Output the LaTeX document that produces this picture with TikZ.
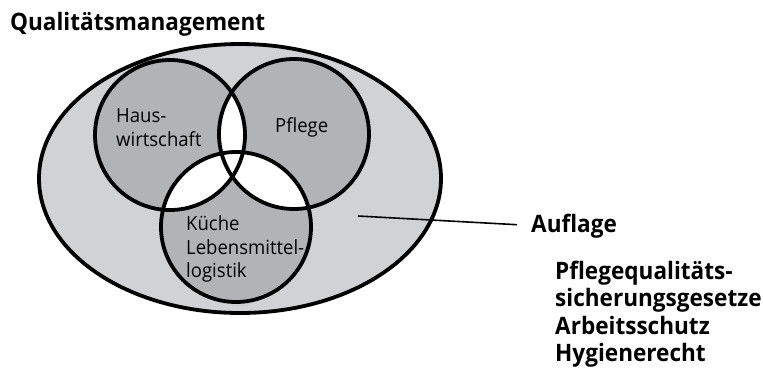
\documentclass[tikz,border=0pt]{standalone}
\usepackage{fontspec}
\setmainfont{Open Sans}
\newfontfamily\condfont[FakeStretch=0.95]{Open Sans}
\newfontfamily\boldcond[FakeStretch=0.94]{Open Sans Bold}
\definecolor{outerfill}{HTML}{D1D2D4}
\definecolor{circfill}{HTML}{B2B3B5}
\begin{document}
\begin{tikzpicture}[x=1pt,y=-1pt,
  outline/.style={line width=3.8pt,draw=black},
  boldlabel/.style={font=\boldcond\fontsize{24}{28}\selectfont,inner sep=0pt,anchor=base west},
  innerlabel/.style={font=\condfont\fontsize{19.5}{24}\selectfont,inner sep=0pt,anchor=base west},
  leader/.style={line width=1.6pt,draw=black}]
\useasboundingbox (0,0) rectangle (763,368);
\coordinate (E) at (240,178.5);
\coordinate (H) at (170,135);
\coordinate (P) at (294,134);
\coordinate (K) at (236,227);
% fills
\fill[outerfill] (E) ellipse [x radius=201pt, y radius=134.5pt];
\fill[circfill] (H) circle [radius=75pt];
\fill[circfill] (P) circle [radius=75pt];
\fill[circfill] (K) circle [radius=75pt];
\begin{scope}
  \clip (H) circle [radius=75pt];
  \fill[white] (P) circle [radius=75pt];
  \fill[white] (K) circle [radius=75pt];
\end{scope}
\begin{scope}
  \clip (P) circle [radius=75pt];
  \fill[white] (K) circle [radius=75pt];
\end{scope}
% outlines
\draw[outline] (E) ellipse [x radius=201pt, y radius=134.5pt];
\draw[outline] (H) circle [radius=75pt];
\draw[outline] (P) circle [radius=75pt];
\draw[outline] (K) circle [radius=75pt];
% texts
\node[boldlabel] (title) at (10,30) {Qualitätsmanagement};
\node[innerlabel] (haus1) at (116,122) {Haus-};
\node[innerlabel] (haus2) at (116,146) {wirtschaft};
\node[innerlabel] (pflege) at (275,132) {Pflege};
\node[innerlabel] (kueche1) at (186,230) {Küche};
\node[innerlabel] (kueche2) at (186,254) {Lebensmittel-};
\node[innerlabel] (kueche3) at (186,277) {logistik};
\node[boldlabel] (auflage) at (531,232) {Auflage};
\node[boldlabel] (r1) at (555,279) {Pflegequalitäts-};
\node[boldlabel] (r2) at (555,306.5) {sicherungsgesetze};
\node[boldlabel] (r3) at (555,334) {Arbeitsschutz};
\node[boldlabel] (r4) at (555,361.5) {Hygienerecht};
% leader line
\coordinate (lstart) at (358,216);
\draw[leader] (lstart) -- ([xshift=-14pt,yshift=1pt]auflage.west);
\end{tikzpicture}
\end{document}
